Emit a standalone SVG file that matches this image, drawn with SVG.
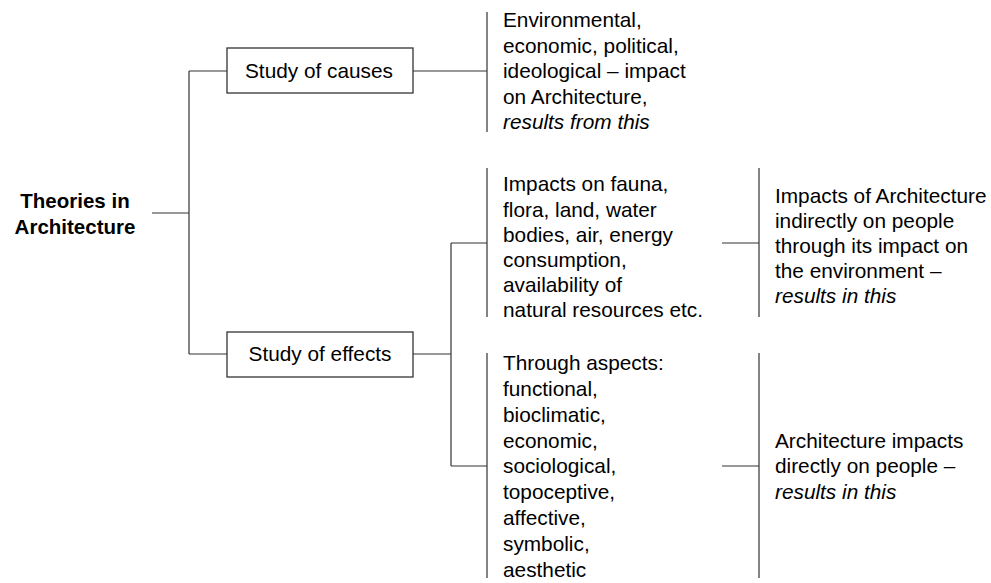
<svg xmlns="http://www.w3.org/2000/svg" width="991" height="583" viewBox="0 0 991 583">
<style>
text{font-family:"Liberation Sans",Arial,sans-serif;font-size:20.8px;fill:#000}
.b{font-weight:bold;font-size:20.5px}
.c{text-anchor:middle}
.i{font-style:italic}
.box{fill:#fff;stroke:#333;stroke-width:1.3}
.ln{stroke:#333;stroke-width:1.2;fill:none}
</style>
<rect width="991" height="583" fill="#fff"/>
<g id="connectors">
<path class="ln" d="M152 213H189M189 71V354M189 71H227M189 354H227M413 71H487M487 12V132M413 354H451M451 243V466M451 243H487M451 466H487M487 168V317M487 353V578M722 243H759M759 168V317M722 466H759M759 353V578"/>
</g>
<g id="theories">
<text class="b c" x="75" y="208">Theories in</text>
<text class="b c" x="75" y="234">Architecture</text>
</g>
<g id="causes">
<rect class="box" x="227" y="48" width="186" height="45"/>
<text class="c" x="319" y="78">Study of causes</text>
</g>
<g id="effects">
<rect class="box" x="227" y="332" width="186" height="45"/>
<text class="c" x="320" y="361">Study of effects</text>
</g>
<g id="causes-text">
<text x="503" y="27">Environmental,</text>
<text x="503" y="53">economic, political,</text>
<text x="503" y="78">ideological – impact</text>
<text x="503" y="104">on Architecture,</text>
<text x="503" y="129" class="i">results from this</text>
</g>
<g id="env-impacts">
<text x="503" y="191">Impacts on fauna,</text>
<text x="503" y="217">flora, land, water</text>
<text x="503" y="242">bodies, air, energy</text>
<text x="503" y="267">consumption,</text>
<text x="503" y="292">availability of</text>
<text x="503" y="317">natural resources etc.</text>
</g>
<g id="indirect">
<text x="775" y="203">Impacts of Architecture</text>
<text x="775" y="228">indirectly on people</text>
<text x="775" y="253">through its impact on</text>
<text x="775" y="278">the environment –</text>
<text x="775" y="303" class="i">results in this</text>
</g>
<g id="aspects">
<text x="503" y="370">Through aspects:</text>
<text x="503" y="396">functional,</text>
<text x="503" y="422">bioclimatic,</text>
<text x="503" y="448">economic,</text>
<text x="503" y="473">sociological,</text>
<text x="503" y="499">topoceptive,</text>
<text x="503" y="525">affective,</text>
<text x="503" y="551">symbolic,</text>
<text x="503" y="577">aesthetic</text>
</g>
<g id="direct">
<text x="775" y="448">Architecture impacts</text>
<text x="775" y="473">directly on people –</text>
<text x="775" y="499" class="i">results in this</text>
</g>
</svg>
